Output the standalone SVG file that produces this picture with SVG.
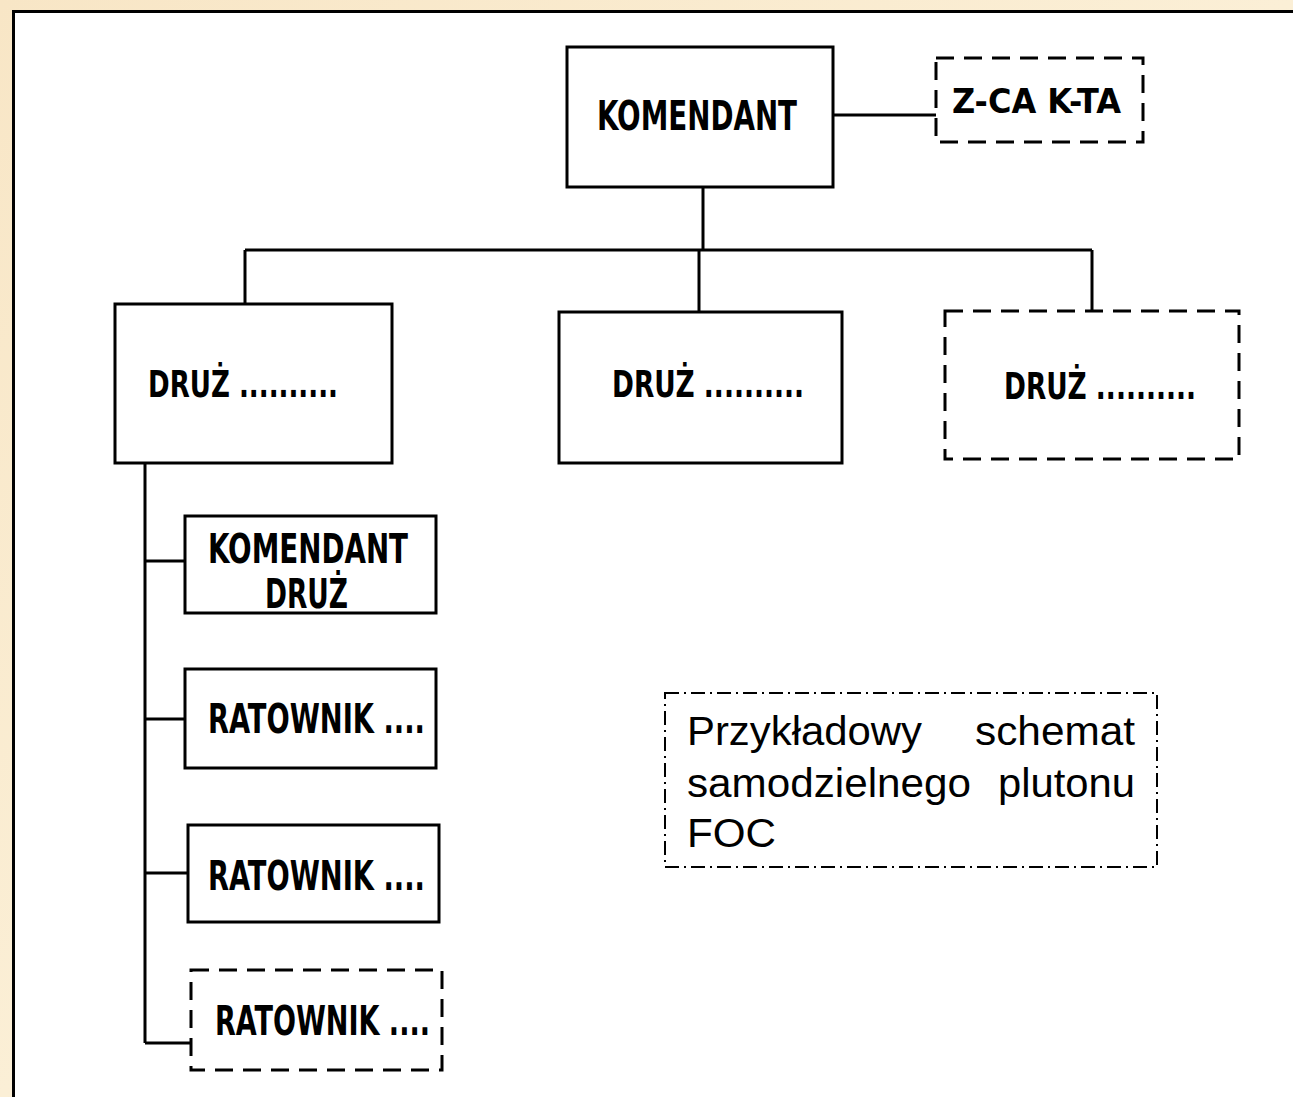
<svg xmlns="http://www.w3.org/2000/svg" width="1293" height="1097" viewBox="0 0 1293 1097">
<defs>
<linearGradient id="bg" x1="0" y1="0" x2="1" y2="1">
<stop offset="0" stop-color="#f8e6c6"/>
<stop offset="0.5" stop-color="#fbefd6"/>
<stop offset="1" stop-color="#f7e4c2"/>
</linearGradient>
</defs>
<style>
.box{fill:#fff;stroke:#000;stroke-width:3}
.dash{fill:#fff;stroke:#000;stroke-width:3;stroke-dasharray:18 10}
.dashdot{fill:#fff;stroke:#000;stroke-width:2;stroke-dasharray:14 5 2 5}
.conn{fill:none;stroke:#000;stroke-width:3}
.lbl{font-family:"DejaVu Sans Condensed","DejaVu Sans",sans-serif;font-weight:bold;fill:#000}
.note{font-family:"Liberation Sans",Arial,sans-serif;font-size:40px;fill:#000}
</style>
<rect x="0" y="0" width="1293" height="1097" fill="url(#bg)"/>
<rect x="13.5" y="11.5" width="1300" height="1100" fill="#fff" stroke="#000" stroke-width="3"/>

<g id="connectors">
<path class="conn" d="M833 115 H936"/>
<path class="conn" d="M703 187 V250"/>
<path class="conn" d="M245 250 H1092"/>
<path class="conn" d="M245 250 V304"/>
<path class="conn" d="M699 250 V312"/>
<path class="conn" d="M1092 250 V311"/>
<path class="conn" d="M145 463 V1043"/>
<path class="conn" d="M145 561 H185"/>
<path class="conn" d="M145 719 H185"/>
<path class="conn" d="M145 873 H188"/>
<path class="conn" d="M145 1043 H191"/>
</g>

<g id="komendant">
<rect class="box" x="567" y="47" width="266" height="140"/>
<text class="lbl" x="597" y="130" font-size="40" textLength="200" lengthAdjust="spacingAndGlyphs">KOMENDANT</text>
</g>
<g id="zca">
<rect class="dash" x="936" y="58" width="207" height="84"/>
<text class="lbl" x="952" y="113" font-size="34" textLength="169" lengthAdjust="spacingAndGlyphs">Z-CA K-TA</text>
</g>
<g id="druz1">
<rect class="box" x="115" y="304" width="277" height="159"/>
<text class="lbl" x="148" y="397" font-size="37" textLength="190" lengthAdjust="spacingAndGlyphs">DRUŻ ..........</text>
</g>
<g id="druz2">
<rect class="box" x="559" y="312" width="283" height="151"/>
<text class="lbl" x="612" y="397" font-size="37" textLength="192" lengthAdjust="spacingAndGlyphs">DRUŻ ..........</text>
</g>
<g id="druz3">
<rect class="dash" x="945" y="311" width="294" height="148"/>
<text class="lbl" x="1004" y="399" font-size="37" textLength="192" lengthAdjust="spacingAndGlyphs">DRUŻ ..........</text>
</g>
<g id="kdruz">
<rect class="box" x="185" y="516" width="251" height="97"/>
<text class="lbl" x="208" y="563" font-size="40" textLength="200" lengthAdjust="spacingAndGlyphs">KOMENDANT</text>
<text class="lbl" x="265" y="608" font-size="40" textLength="83" lengthAdjust="spacingAndGlyphs">DRUŻ</text>
</g>
<g id="rat1">
<rect class="box" x="185" y="669" width="251" height="99"/>
<text class="lbl" x="208" y="733" font-size="40" textLength="217" lengthAdjust="spacingAndGlyphs">RATOWNIK ....</text>
</g>
<g id="rat2">
<rect class="box" x="188" y="825" width="251" height="97"/>
<text class="lbl" x="208" y="890" font-size="40" textLength="217" lengthAdjust="spacingAndGlyphs">RATOWNIK ....</text>
</g>
<g id="rat3">
<rect class="dash" x="191" y="970" width="251" height="100"/>
<text class="lbl" x="215" y="1035" font-size="40" textLength="215" lengthAdjust="spacingAndGlyphs">RATOWNIK ....</text>
</g>
<g id="note">
<rect class="dashdot" x="665" y="693" width="492" height="174"/>
<text class="note" x="687" y="745" textLength="235" lengthAdjust="spacingAndGlyphs">Przykładowy</text>
<text class="note" x="975" y="745" textLength="160" lengthAdjust="spacingAndGlyphs">schemat</text>
<text class="note" x="687" y="797" textLength="284" lengthAdjust="spacingAndGlyphs">samodzielnego</text>
<text class="note" x="998" y="797" textLength="137" lengthAdjust="spacingAndGlyphs">plutonu</text>
<text class="note" x="687" y="847" textLength="89" lengthAdjust="spacingAndGlyphs">FOC</text>
</g>
</svg>
